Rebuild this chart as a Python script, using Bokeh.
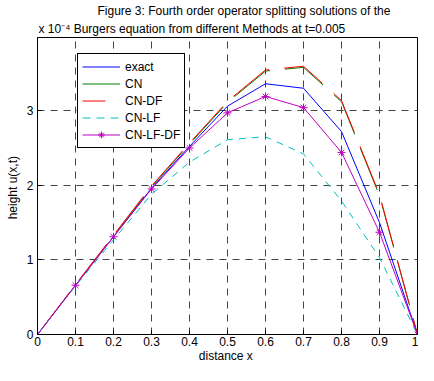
import numpy as np
from bokeh.plotting import figure
from bokeh.models import Range1d, FixedTicker, Legend, LegendItem, Title
from bokeh.embed import file_html
from bokeh.resources import INLINE

# ---- data (heights in units of 1e-4) ----
x = [0.0, 0.1, 0.2, 0.3, 0.4, 0.5, 0.6, 0.7, 0.8, 0.9, 1.0]
exact = [0.0, 0.66, 1.31, 1.96, 2.52, 3.06, 3.36, 3.30, 2.72, 1.50, 0.0]
cn = [0.0, 0.66, 1.32, 1.98, 2.55, 3.11, 3.53, 3.58, 3.12, 1.86, 0.0]
cn_df = [0.0, 0.67, 1.33, 1.99, 2.565, 3.125, 3.545, 3.595, 3.135, 1.875, 0.0]
cn_lf = [0.0, 0.65, 1.27, 1.88, 2.31, 2.61, 2.65, 2.42, 1.79, 1.03, 0.0]
cn_lf_df = [0.0, 0.66, 1.31, 1.95, 2.50, 2.97, 3.19, 3.04, 2.44, 1.37, 0.0]

x_ticks = [0.0, 0.1, 0.2, 0.3, 0.4, 0.5, 0.6, 0.7, 0.8, 0.9, 1.0]
x_tick_labels = ["0", "0.1", "0.2", "0.3", "0.4", "0.5", "0.6", "0.7", "0.8", "0.9", "1"]
y_ticks = [0, 1, 2, 3]

title1 = "Figure 3: Fourth order operator splitting solutions of the"
title2 = "x 10\u207b\u2074 Burgers equation from different Methods at t=0.005"

FONT = "Liberation Sans"
FS = "12px"
BLUE, GREEN, RED, CYAN, MAGENTA = "#0000ff", "#008000", "#ff0000", "#00bfbf", "#bf00bf"

p = figure(width=418, height=365, output_backend="svg", toolbar_location=None,
           x_range=Range1d(0, 1), y_range=Range1d(0, 3.98),
           min_border_left=37, min_border_right=1, min_border_top=37, min_border_bottom=31)
p.background_fill_color = "white"
p.border_fill_color = "white"
p.outline_line_color = "black"
p.outline_line_width = 1
p.outline_line_alpha = 1

for ax in (p.xaxis[0], p.yaxis[0]):
    ax.major_tick_in = 4
    ax.major_tick_out = 0
    ax.minor_tick_in = 0
    ax.minor_tick_out = 0
    ax.axis_line_color = "black"
    ax.major_tick_line_color = "black"
    ax.major_label_text_font = FONT
    ax.major_label_text_font_size = FS
    ax.major_label_text_color = "black"
    ax.axis_label_text_font = FONT
    ax.axis_label_text_font_size = FS
    ax.axis_label_text_font_style = "normal"
    ax.axis_label_text_color = "black"

p.xaxis.ticker = FixedTicker(ticks=x_ticks)
p.xaxis.major_label_overrides = {t: l for t, l in zip(x_ticks, x_tick_labels)}
p.yaxis.ticker = FixedTicker(ticks=y_ticks)
p.xaxis.axis_label = "distance  x"
p.yaxis.axis_label = "height  u(x,t)"
p.xaxis.major_label_standoff = 2
p.xaxis.axis_label_standoff = 0
p.yaxis.major_label_standoff = 4
p.yaxis.axis_label_standoff = 4

p.xgrid.ticker = FixedTicker(ticks=x_ticks)
p.ygrid.ticker = FixedTicker(ticks=y_ticks)
for g in (p.xgrid[0], p.ygrid[0]):
    g.grid_line_color = "#444444"
    g.grid_line_dash = "7 6"
    g.grid_line_width = 1

# ---- curves ----
p.line(x, exact, line_color=BLUE, line_width=1)
p.line(x, cn, line_color=GREEN, line_width=1, line_dash="45 15", line_dash_offset=51)
p.line(x, cn_df, line_color=RED, line_width=1, line_dash="45 15", line_dash_offset=51)
p.line(x, cn_lf, line_color=CYAN, line_width=1, line_dash="7 6")
p.line(x, cn_lf_df, line_color=MAGENTA, line_width=1)
p.scatter(x, cn_lf_df, marker="asterisk", size=8, line_color=MAGENTA, line_width=1)

# ---- legend samples (invisible NaN renderers carrying the legend styles) ----
nan = [np.nan]
l1 = p.line(nan, nan, line_color=BLUE, line_width=1)
l2 = p.line(nan, nan, line_color=GREEN, line_width=1)
l3 = p.line(nan, nan, line_color=RED, line_width=1, line_dash="23 15")
l4 = p.line(nan, nan, line_color=CYAN, line_width=1, line_dash="8 6")
l5a = p.line(nan, nan, line_color=MAGENTA, line_width=1)
l5b = p.scatter(nan, nan, marker="asterisk", size=8, line_color=MAGENTA, line_width=1)

legend = Legend(items=[
    LegendItem(label="exact", renderers=[l1]),
    LegendItem(label="CN", renderers=[l2]),
    LegendItem(label="CN-DF", renderers=[l3]),
    LegendItem(label="CN-LF", renderers=[l4]),
    LegendItem(label="CN-LF-DF", renderers=[l5a, l5b]),
], location=(40, 186))
legend.border_line_color = "black"
legend.border_line_width = 1
legend.border_line_alpha = 1
legend.background_fill_color = "white"
legend.background_fill_alpha = 1
legend.label_text_font = FONT
legend.label_text_font_size = FS
legend.label_text_color = "black"
legend.glyph_width = 38
legend.glyph_height = 17
legend.label_height = 17
legend.label_standoff = 5
legend.spacing = 0
legend.padding = 4
legend.margin = 0
p.add_layout(legend)

# ---- two-line title (closest line added first) ----
t2 = Title(text=title2, align="left", offset=1, standoff=3,
           text_font=FONT, text_font_size=FS, text_font_style="normal", text_color="black")
t1 = Title(text=title1, align="left", offset=60, standoff=1,
           text_font=FONT, text_font_size=FS, text_font_style="normal", text_color="black")
p.add_layout(t2, "above")
p.add_layout(t1, "above")

open("out.html", "w").write(file_html(p, INLINE))
